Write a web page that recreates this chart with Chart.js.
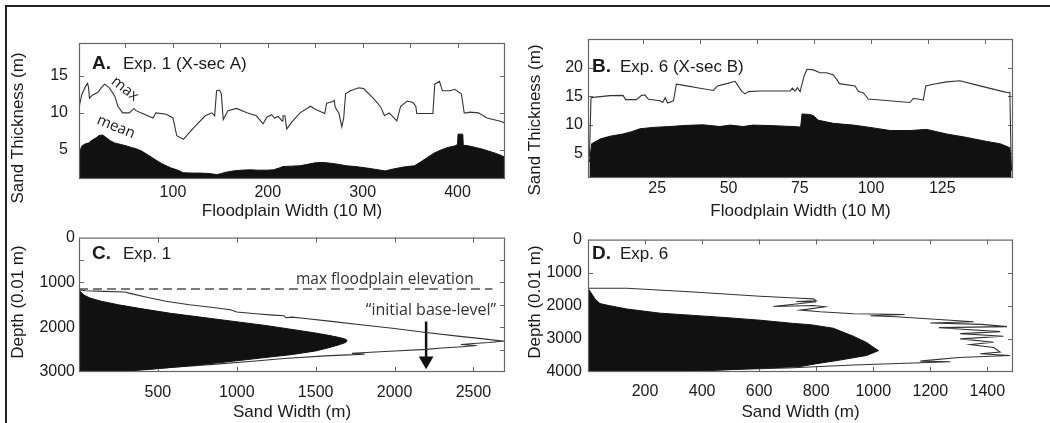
<!DOCTYPE html>
<html><head><meta charset="utf-8">
<script src="https://cdn.jsdelivr.net/npm/chart.js@4.4.0/dist/chart.umd.min.js"></script>
<style>
html,body{margin:0;padding:0;background:#fff;}
#wrap{position:relative;width:1050px;height:423px;overflow:hidden;background:#fff;}
#frame{position:absolute;left:5px;top:5px;width:1100px;height:500px;border-top:2px solid #222;border-left:2px solid #222;}
canvas{position:absolute;}
</style></head><body>
<div id="wrap">
<div id="frame"></div>
<canvas id="cA" width="525" height="225" style="left:0;top:0;width:525px;height:225px"></canvas>
<canvas id="cB" width="525" height="225" style="left:525px;top:0;width:525px;height:225px"></canvas>
<canvas id="cC" width="525" height="199" style="left:0;top:224px;width:525px;height:199px"></canvas>
<canvas id="cD" width="525" height="199" style="left:525px;top:224px;width:525px;height:199px"></canvas>
</div>
<script>
// ---------- DATA ----------
// Panel A: Exp. 1 (X-sec A)  [floodplain width (10 m), sand thickness (m)]
const aMax = [[1,10.7],[4,12.5],[8,13.6],[10,14.0],[11,13.5],[12,12.0],[15,12.4],[21,12.8],[25,13.5],[28,13.9],[33,13.4],[38.6,12.3],[42,10.9],[47,10.0],[54,10.0],[59,10.6],[61,10.3],[68,9.9],[79,9.3],[82,10.0],[93,9.8],[100,9.3],[104,6.9],[111,6.4],[122,8.0],[134,9.6],[141,10.0],[144,9.6],[146,13.0],[149,13.1],[151,12.6],[153,9.1],[158,10.3],[167,10.6],[178,10.0],[188,9.6],[195,8.5],[199,9.4],[204,9.75],[207,9.3],[211,9.5],[215,8.9],[216,9.6],[218,9.6],[220,7.8],[225,8.7],[234,10.0],[245,10.9],[250,10.5],[260,9.9],[262,11.3],[268,11.5],[270,11.7],[271,10.8],[275,9.9],[278,8.1],[280,9.3],[282,12.6],[287,13.0],[296,13.4],[301,13.3],[312,11.85],[319,10.8],[323,9.6],[328,10.0],[336,8.9],[340,10.9],[347,11.6],[353,11.4],[356,10.9],[357,9.9],[374,9.9],[376,13.9],[381,14.3],[384,13.0],[392,13.0],[397,13.2],[404,12.6],[407,10.0],[410,10.0],[413,10.1],[422,10.0],[431,9.3],[444,8.9],[449,8.7],[450,8.2],[450,4.0]];
const aMean = [[1,4.4],[4,5.5],[8,5.8],[11,5.9],[15,6.3],[19,6.6],[22,6.9],[25.5,7.0],[28,6.8],[30,6.6],[34,6.2],[38.6,5.9],[45,5.7],[51,5.5],[56,5.3],[61.5,5.1],[67,4.8],[72,4.4],[77,4.0],[83,3.5],[88,3.1],[93,2.8],[98,2.5],[104,2.25],[111,1.85],[120,1.8],[129,1.8],[138,1.75],[146,1.6],[150,1.7],[155,1.9],[163.6,2.1],[172,2.2],[181,2.25],[190,2.2],[199,2.2],[206,2.25],[212,2.5],[216,2.7],[225,2.75],[234,2.8],[242,3.0],[250,3.2],[258,3.25],[266,3.15],[274,3.0],[283,2.8],[292,2.7],[304,2.5],[314,2.3],[324,2.1],[330,2.3],[340,2.55],[347,2.7],[354.5,2.8],[361,3.3],[368.5,3.96],[375,4.5],[382.6,4.95],[390,5.3],[397,5.5],[400,5.7],[400.5,7.1],[405.5,7.1],[406,5.6],[412,5.5],[418.6,5.3],[425,5.1],[432.6,4.8],[440,4.5],[446,4.2],[450,3.96]];
// Panel B: Exp. 6 (X-sec B)
const bMax = [[1.2,4.35],[1.75,14.75],[2.5,14.8],[8.4,15.1],[13,15.15],[13.9,14.4],[17.7,14.4],[19.5,15.15],[20.7,15.2],[21.9,14.45],[26,14.2],[26.9,13.9],[27.8,14.75],[28.6,13.8],[30.7,14.2],[31.7,17.1],[35.4,16.8],[40,16.4],[44.7,16.0],[46.1,16.8],[49.4,17.2],[52.3,17.6],[54.6,15.9],[55.8,15.4],[57,15.8],[61,15.9],[71.6,15.9],[72.4,16.4],[73.3,15.9],[74.2,16.5],[75.1,15.8],[76.5,18.5],[77.5,19.7],[79.8,19.6],[82.1,19.1],[84.4,19.1],[86.8,18.7],[88,17.9],[88.9,17.2],[94.4,16.8],[95.6,15.8],[97.3,15.6],[99,14.5],[104.3,14.3],[113.6,13.9],[114.8,14.6],[116.5,14.5],[118.3,14.3],[119.2,16.8],[121.8,17.1],[126.5,17.5],[131.2,17.7],[138.2,16.8],[146.4,15.8],[148.1,15.6],[148.7,15.7],[149.2,2.0]];
const bMean = [[1.2,3.5],[2,6.7],[4.9,7.5],[8.4,8.0],[13,8.4],[16,8.8],[18.9,9.3],[23.6,9.55],[29.4,9.7],[35.3,9.9],[41.1,10.0],[47,9.7],[50.5,9.95],[55.1,9.7],[58.6,9.95],[65.6,9.85],[72.7,9.7],[75.3,9.6],[75.8,11.9],[78.5,11.8],[79.8,11.6],[81.5,10.8],[86.8,10.25],[93.8,9.95],[99.6,9.55],[106.7,9.0],[113.6,9.0],[119.5,9.2],[126.5,8.4],[133.5,7.8],[140.5,7.1],[145.2,6.7],[148.7,6.0],[149.3,2.0]];
// Panel C: Exp. 1  [sand width (m), depth (0.01 m)]
const cMax = [[0,1160],[40,1185],[160,1200],[290,1215],[330,1250],[430,1330],[550,1420],[700,1500],[850,1560],[960,1610],[1000,1660],[1120,1700],[1230,1730],[1300,1745],[1310,1790],[1350,1775],[1420,1800],[1600,1870],[1800,1950],[2000,2030],[2200,2120],[2400,2200],[2550,2255],[2690,2310],[2600,2340],[2500,2365],[2420,2385],[2520,2410],[2430,2435],[2300,2465],[2200,2495],[2000,2530],[1850,2560],[1790,2570],[1730,2585],[1810,2600],[1560,2640],[1300,2700],[1100,2760],[850,2830],[620,2890],[430,2940],[300,2975],[220,3000]];
const cMean = [[0,1150],[8,1200],[30,1280],[70,1350],[140,1420],[250,1500],[400,1590],[580,1690],[780,1780],[980,1870],[1180,1960],[1350,2050],[1480,2120],[1580,2180],[1650,2230],[1690,2270],[1700,2300],[1690,2340],[1650,2390],[1580,2460],[1500,2530],[1350,2610],[1150,2690],[920,2780],[700,2860],[480,2930],[300,2980],[220,3000]];
const cFloodplainTop = 1150;   // max floodplain elevation (depth)
const cBaseLevel = 2200;       // "initial base-level" arrow position (sand width)
// Panel D: Exp. 6
const dMax = [[3,1470],[136,1470],[370,1585],[603,1710],[744,1770],[790,1790],[800,1850],[730,1870],[800,1880],[650,2020],[790,1990],[830,2030],[745,2130],[814,2180],[931,2240],[1000,2250],[1110,2262],[1060,2280],[990,2300],[1080,2330],[1352,2480],[1200,2520],[1380,2560],[1469,2630],[1230,2660],[1300,2700],[1445,2780],[1305,2840],[1456,2920],[1305,3000],[1422,3100],[1340,3170],[1422,3260],[1445,3400],[1375,3450],[1480,3500],[1300,3560],[1200,3640],[1165,3670],[1270,3690],[931,3790],[700,3880],[463,3930],[112,3990],[0,4000]];
const dMean = [[0,1470],[10,1600],[25,1800],[42,1934],[77,2000],[136,2097],[253,2223],[370,2290],[487,2358],[603,2435],[720,2532],[780,2570],[860,2678],[895,2800],[930,2918],[950,3000],[977,3110],[1000,3250],[1019,3354],[1000,3420],[977,3500],[930,3570],[883,3640],[800,3750],[744,3836],[603,3885],[370,3980],[195,4000]];
// Tick labels
const aXLabels = [100,200,300,400], aYLabels = [5,10,15];
const aXMarks = [50,100,150,200,250,300,350,400];
const bXLabels = [25,50,75,100,125], bYLabels = [5,10,15,20];
const bXMarks = [20,40,60,80,100,120,140];
const cXLabels = [500,1000,1500,2000,2500], cYLabels = [0,1000,2000,3000];
const cYMarks = [500,1000,1500,2000,2500];
const dXLabels = [200,400,600,800,1000,1200,1400], dYLabels = [0,1000,2000,3000,4000];
const dYMarks = [1000,2000,3000];

// ---------- RENDERING ----------
const FONT = '"Liberation Sans", Arial, Helvetica, sans-serif';
const ANN = '"Open Sans", "Noto Sans", sans-serif';
const INK = '#1a1a1a';
Chart.defaults.font.family = FONT;

const pts = arr => arr.map(([x, y]) => ({x, y}));

const boxTicks = {
  id: 'boxTicks',
  beforeDatasetsDraw(chart, args, o) {
    const {ctx, chartArea: a, scales: {x, y}} = chart;
    const L = o.len || 5;
    ctx.save();
    ctx.strokeStyle = o.color || '#666';
    ctx.lineWidth = 1;
    ctx.beginPath();
    (o.top || []).forEach(v => { const p = Math.round(x.getPixelForValue(v)) + 0.5; ctx.moveTo(p, a.top); ctx.lineTo(p, a.top + L); });
    (o.bottom || []).forEach(v => { const p = Math.round(x.getPixelForValue(v)) + 0.5; ctx.moveTo(p, a.bottom); ctx.lineTo(p, a.bottom - L); });
    (o.left || []).forEach(v => { const p = Math.round(y.getPixelForValue(v)) + 0.5; ctx.moveTo(a.left, p); ctx.lineTo(a.left + L, p); });
    (o.right || []).forEach(v => { const p = Math.round(y.getPixelForValue(v)) + 0.5; ctx.moveTo(a.right, p); ctx.lineTo(a.right - L, p); });
    ctx.stroke();
    ctx.restore();
  },
  afterDatasetsDraw(chart, args, o) {
    const {ctx, chartArea: a} = chart;
    ctx.save();
    ctx.strokeStyle = o.color || '#666';
    ctx.lineWidth = 1.2;
    ctx.strokeRect(a.left + 0.5, a.top + 0.5, a.right - a.left - 1, a.bottom - a.top - 1);
    ctx.restore();
  }
};

const annot = {
  id: 'annot',
  afterDraw(chart, args, o) {
    const ctx = chart.ctx;
    (o.items || []).forEach(it => {
      ctx.save();
      ctx.font = it.font;
      ctx.fillStyle = it.color || INK;
      ctx.textAlign = it.align || 'left';
      ctx.textBaseline = it.baseline || 'alphabetic';
      ctx.translate(it.x, it.y);
      if (it.rot) ctx.rotate(it.rot * Math.PI / 180);
      ctx.fillText(it.text, 0, 0);
      ctx.restore();
    });
  }
};

function xScale(o) {
  return {
    type: 'linear', position: 'bottom', min: o.min, max: o.max,
    afterBuildTicks: s => { s.ticks = o.labels.map(v => ({value: v})); },
    afterFit: s => { s.height = o.h; },
    grid: {display: false, drawTicks: false}, border: {display: false},
    ticks: {padding: o.pad, autoSkip: false, maxRotation: 0, minRotation: 0, color: INK, font: {size: 16, family: FONT}, callback: v => String(v)},
    title: {display: true, text: o.title, color: INK, font: {size: 17, family: FONT}, padding: {top: 0, bottom: o.tpad}}
  };
}
function yScale(o) {
  return {
    type: 'linear', position: 'left', min: o.min, max: o.max, reverse: !!o.rev,
    afterBuildTicks: s => { s.ticks = o.labels.map(v => ({value: v})); },
    afterFit: s => { s.width = o.w; },
    grid: {display: false, drawTicks: false}, border: {display: false},
    ticks: {padding: o.pad, autoSkip: false, color: INK, font: {size: 16, family: FONT}, callback: v => String(v)},
    title: {display: false}
  };
}
function baseOpts(extra) {
  return Object.assign({
    responsive: false, animation: false, events: [], maintainAspectRatio: false,
  }, extra);
}
const fillDs = (data, fill) => ({data: pts(data), borderColor: '#111', backgroundColor: '#111', borderWidth: 1, fill, pointRadius: 0, tension: 0});
const lineDs = (data) => ({data: pts(data), borderColor: '#333', borderWidth: 1.1, fill: false, pointRadius: 0, tension: 0});

// A
new Chart(document.getElementById('cA'), {
  type: 'line',
  data: {datasets: [fillDs(aMean, 'start'), lineDs(aMax)]},
  options: baseOpts({
    layout: {padding: {left: 0, top: 43, right: 20, bottom: 0}},
    scales: {
      x: xScale({min: 1, max: 450, labels: aXLabels, h: 46, pad: 3.7, title: 'Floodplain Width (10 M)', tpad: 3}),
      y: yScale({min: 1, max: 19.5, labels: aYLabels, w: 79, pad: 11})
    },
    plugins: {
      legend: {display: false}, tooltip: {enabled: false},
      boxTicks: {top: aXMarks, right: aYLabels, bottom: aXMarks, left: aYLabels, len: 5, color: '#666'},
      annot: {items: [
        {text: 'A.', x: 92, y: 69, font: 'bold 19px ' + FONT},
        {text: 'Exp. 1 (X-sec A)', x: 123, y: 69, font: '17px ' + FONT},
        {text: 'max', x: 125, y: 89, rot: 38, align: 'center', baseline: 'middle', font: '15px ' + ANN},
        {text: 'mean', x: 116, y: 127, rot: 22, align: 'center', baseline: 'middle', font: '15px ' + ANN},
        {text: 'Sand Thickness (m)', x: 18, y: 128, rot: -90, align: 'center', baseline: 'middle', font: '17px ' + FONT}
      ]}
    }
  }),
  plugins: [boxTicks, annot]
});

// B
new Chart(document.getElementById('cB'), {
  type: 'line',
  data: {datasets: [fillDs(bMean, 'start'), lineDs(bMax)]},
  options: baseOpts({
    layout: {padding: {left: 0, top: 39, right: 37, bottom: 0}},
    scales: {
      x: xScale({min: 0.7, max: 149.8, labels: bXLabels, h: 47, pad: 0.7, title: 'Floodplain Width (10 M)', tpad: 3.8}),
      y: yScale({min: 0.7, max: 25, labels: bYLabels, w: 63, pad: 5})
    },
    plugins: {
      legend: {display: false}, tooltip: {enabled: false},
      boxTicks: {top: bXMarks, right: bYLabels, bottom: bXLabels, left: bYLabels, len: 5, color: '#666'},
      annot: {items: [
        {text: 'B.', x: 67, y: 72, font: 'bold 19px ' + FONT},
        {text: 'Exp. 6 (X-sec B)', x: 95, y: 72, font: '17px ' + FONT},
        {text: 'Sand Thickness (m)', x: 10, y: 120, rot: -90, align: 'center', baseline: 'middle', font: '17px ' + FONT}
      ]}
    }
  }),
  plugins: [boxTicks, annot]
});

// C
new Chart(document.getElementById('cC'), {
  type: 'line',
  data: {datasets: [
    fillDs(cMean, {value: 0}),
    lineDs(cMax),
    {data: [{x: 0, y: cFloodplainTop}, {x: 2620, y: cFloodplainTop}], borderColor: '#7a7a7a', borderWidth: 2, borderDash: [9, 5], fill: false, pointRadius: 0},
    {data: [{x: cBaseLevel, y: 1870}, {x: cBaseLevel, y: 2750}], borderColor: '#111', borderWidth: 2.5, fill: false,
     pointRadius: [0, 8.5], pointStyle: 'triangle', rotation: 180, pointBackgroundColor: '#111', pointBorderColor: '#111', pointBorderWidth: 0}
  ]},
  options: baseOpts({
    indexAxis: 'y',
    layout: {padding: {left: 0, top: 10, right: 20, bottom: 0}},
    scales: {
      x: xScale({min: 0, max: 2700, labels: cXLabels, h: 51, pad: 11.4, title: 'Sand Width (m)', tpad: 0}),
      y: yScale({min: 0, max: 3000, rev: true, labels: cYLabels, w: 79, pad: 4})
    },
    plugins: {
      legend: {display: false}, tooltip: {enabled: false},
      boxTicks: {top: cXLabels, bottom: cXLabels, left: cYMarks, right: cYMarks, len: 5, color: '#666'},
      annot: {items: [
        {text: 'C.', x: 92, y: 34.5, font: 'bold 19px ' + FONT},
        {text: 'Exp. 1', x: 123, y: 34.5, font: '17px ' + FONT},
        {text: 'max floodplain elevation', x: 296, y: 60, font: '15.5px ' + ANN, color: '#333'},
        {text: '\u201Cinitial base-level\u201D', x: 431, y: 91, align: 'center', font: '16px ' + ANN, color: '#333'},
        {text: 'Depth (0.01 m)', x: 18, y: 78, rot: -90, align: 'center', baseline: 'middle', font: '17px ' + FONT}
      ]}
    }
  }),
  plugins: [boxTicks, annot]
});

// D
new Chart(document.getElementById('cD'), {
  type: 'line',
  data: {datasets: [fillDs(dMean, {value: 0}), lineDs(dMax)]},
  options: baseOpts({
    indexAxis: 'y',
    layout: {padding: {left: 0, top: 10, right: 37, bottom: 0}},
    scales: {
      x: xScale({min: 0, max: 1490, labels: dXLabels, h: 51, pad: 10.4, title: 'Sand Width (m)', tpad: 0.5}),
      y: yScale({min: 0, max: 4000, rev: true, labels: dYLabels, w: 63, pad: 6})
    },
    plugins: {
      legend: {display: false}, tooltip: {enabled: false},
      boxTicks: {top: dXLabels, bottom: dXLabels, left: dYMarks, right: dYMarks, len: 5, color: '#666'},
      annot: {items: [
        {text: 'D.', x: 67, y: 34.5, font: 'bold 19px ' + FONT},
        {text: 'Exp. 6', x: 95, y: 34.5, font: '17px ' + FONT},
        {text: 'Depth (0.01 m)', x: 10, y: 78, rot: -90, align: 'center', baseline: 'middle', font: '17px ' + FONT}
      ]}
    }
  }),
  plugins: [boxTicks, annot]
});
</script>
</body></html>
